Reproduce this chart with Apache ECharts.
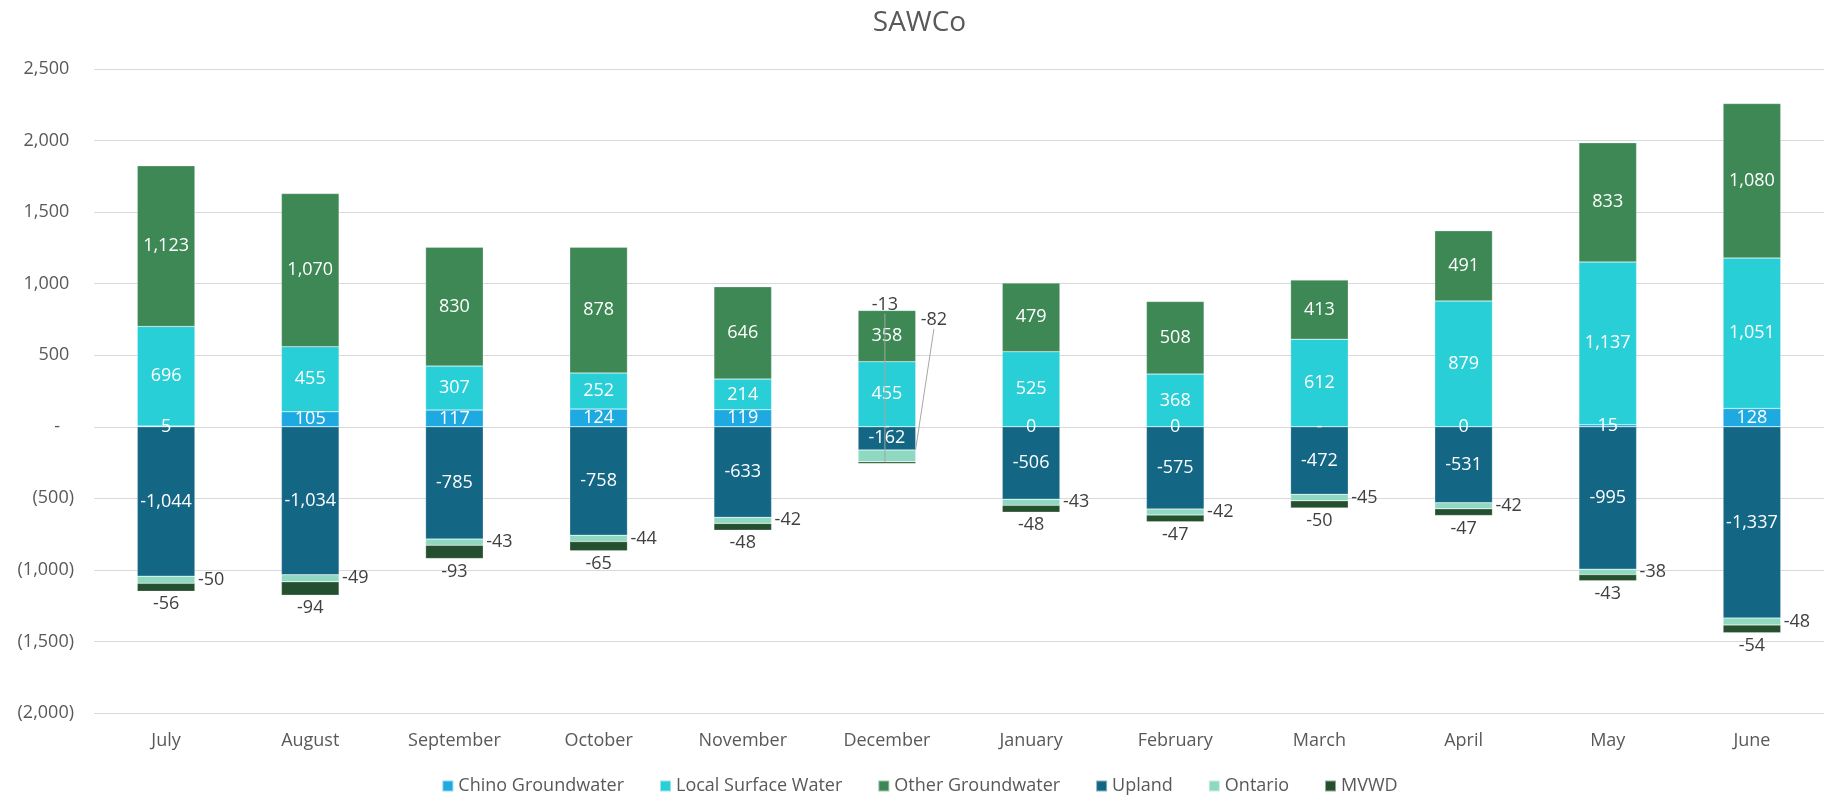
<!DOCTYPE html>
<html>
<head>
<meta charset="utf-8">
<title>SAWCo</title>
<script src="https://cdn.jsdelivr.net/npm/echarts@6/dist/echarts.min.js"></script>
<style>
  html, body { margin: 0; padding: 0; background: #fff; }
  #chart { width: 1839px; height: 803px; }
</style>
</head>
<body>
<div id="chart"></div>
<script>
const months = ['July', 'August', 'September', 'October', 'November', 'December',
  'January', 'February', 'March', 'April', 'May', 'June']

const chino = [5, 105, 117, 124, 119, 0, 0, 0, 0, 0, 15, 128]
const chinoLabels = ['5', '105', '117', '124', '119', '-', '0', '0', '-', '0', '15', '128']
const localSurface = [696, 455, 307, 252, 214, 455, 525, 368, 612, 879, 1137, 1051]
const otherGround = [1123, 1070, 830, 878, 646, 358, 479, 508, 413, 491, 833, 1080]
const upland = [-1044, -1034, -785, -758, -633, -162, -506, -575, -472, -531, -995, -1337]
const ontario = [-50, -49, -43, -44, -42, -82, -43, -42, -45, -42, -38, -48]
const mvwd = [-56, -94, -93, -65, -48, -13, -48, -47, -50, -47, -43, -54]

const yMin = -2000
const yMax = 2500
const yStep = 500

const FONT = 'Open Sans'
const DEC = months.indexOf('December')
const guide = { color: '#a6a6a6', width: 1 }

function num(v) {
  return Math.abs(v).toLocaleString('en-US')
}

function signed(v) {
  return (v < 0 ? '-' : '') + num(v)
}

// accounting style: (1,000) for negatives, - for zero, digits lined up
function accounting(v) {
  if (v === 0) return '-   '
  return v < 0 ? '(' + num(v) + ')' : num(v) + ' '
}

function bar(name, values, color, label, extra) {
  return Object.assign({
    name,
    type: 'bar',
    stack: 'total',
    barWidth: '40%',
    itemStyle: { color, borderColor: 'rgba(255,255,255,0.5)', borderWidth: 0.5 },
    label: Object.assign({ show: true, fontFamily: FONT, fontSize: 18 }, label),
    data: values,
  }, extra || {})
}

// December's small labels are pulled up above the bar with a leader line, as in the source chart
function moved(dx, dy, anchor) {
  return (p) => {
    if (p.dataIndex !== DEC) return {}
    const l = p.labelRect
    const r = p.rect
    const from = anchor === 'left'
      ? [l.x + dx + 4, l.y + dy + l.height * 0.85]
      : [l.x + dx + l.width / 2, l.y + dy + l.height]
    const to = anchor === 'left' ? [r.x + r.width - 1, r.y + r.height / 2] : [r.x + 4, r.y + r.height]
    return { dx, dy, labelLinePoints: [from, to, to] }
  }
}

const chart = echarts.init(document.getElementById('chart'))

chart.setOption({
  animation: false,
  textStyle: { fontFamily: FONT },
  title: {
    text: 'SAWCo',
    left: 'center',
    top: 4,
    textStyle: { fontFamily: FONT, fontSize: 28, fontWeight: 'normal', color: '#595959' },
  },
  legend: {
    bottom: 3,
    left: 'center',
    icon: 'rect',
    itemWidth: 11,
    itemHeight: 11,
    itemGap: 35,
    textStyle: { fontFamily: FONT, fontSize: 18, color: '#595959' },
  },
  grid: { left: 94, right: 15, top: 69, bottom: 90 },
  xAxis: {
    type: 'category',
    data: months,
    axisLine: { show: false },
    axisTick: { show: false },
    axisLabel: { color: '#595959', fontSize: 18, margin: 19, fontFamily: FONT },
  },
  yAxis: {
    type: 'value',
    min: yMin,
    max: yMax,
    interval: yStep,
    axisLine: { show: false },
    axisTick: { show: false },
    axisLabel: {
      color: '#595959',
      fontSize: 18,
      margin: 20,
      fontFamily: FONT,
      formatter: accounting,
    },
    splitLine: { lineStyle: { color: '#d9d9d9', width: 1 } },
  },
  series: [
    bar('Chino Groundwater', chino, '#1fa9e1', {
      position: 'inside', color: '#fff',
      formatter: (p) => chinoLabels[p.dataIndex],
    }),
    bar('Local Surface Water', localSurface, '#28cfd7', {
      position: 'inside', color: '#fff', formatter: (p) => signed(p.value),
    }),
    bar('Other Groundwater', otherGround, '#3d8854', {
      position: 'inside', color: '#fff', formatter: (p) => signed(p.value),
    }),
    bar('Upland', upland, '#136684', {
      position: 'inside', color: '#fff', formatter: (p) => signed(p.value),
    }),
    bar('Ontario', ontario.map((v, i) => (i === DEC ? { value: v, labelLine: { show: true, lineStyle: guide } } : v)), '#8fd8c2', {
      position: 'right', color: '#404040', distance: 3, formatter: (p) => signed(p.value),
    }, {
      z: 4,
      labelLayout: moved(2, -136, 'left'),
    }),
    bar('MVWD', mvwd.map((v, i) => (i === DEC ? { value: v, labelLine: { show: true, lineStyle: guide } } : v)), '#24502f', {
      position: 'bottom', color: '#404040', distance: 4, formatter: (p) => signed(p.value),
    }, {
      z: 5,
      labelLayout: moved(-2, -172, 'bottom'),
    }),
  ],
})
</script>
</body>
</html>
